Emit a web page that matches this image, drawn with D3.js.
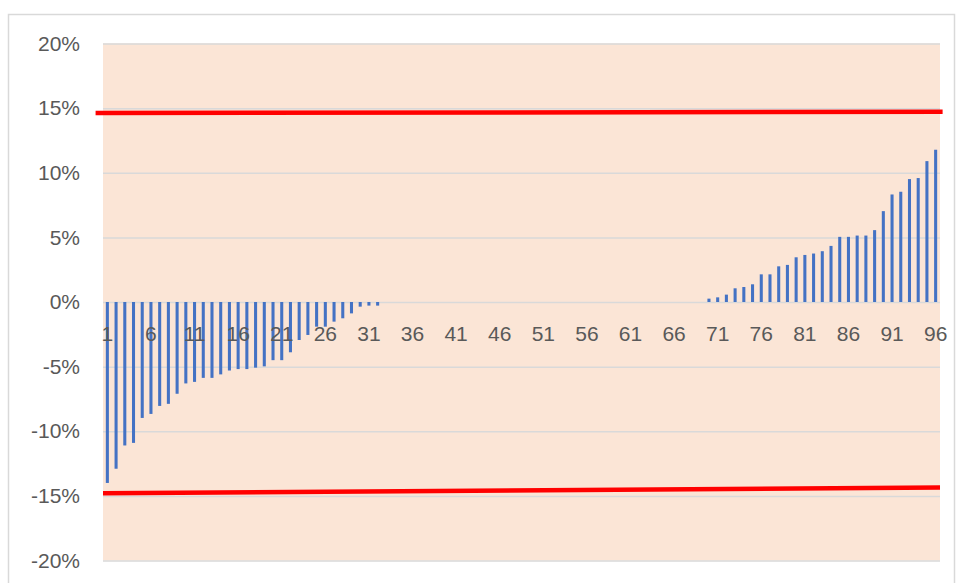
<!DOCTYPE html>
<html>
<head>
<meta charset="utf-8">
<script src="https://cdn.jsdelivr.net/npm/d3@7"></script>
<style>
  body { margin: 0; background: #ffffff; }
  svg { display: block; }
</style>
</head>
<body>
<div id="chart"></div>
<script>
// Values (percent), categories 1..96
var categories = d3.range(1, 97);

var negValues = [-14.0, -12.9, -11.1, -10.9, -8.97, -8.66, -8.04, -7.88, -7.1, -6.3,
                 -6.18, -5.87, -5.87, -5.6, -5.3, -5.19, -5.19, -5.08, -4.98, -4.5,
                 -4.5, -3.89, -2.94, -2.55, -1.91, -1.91, -1.52, -1.26, -0.88, -0.36,
                 -0.28, -0.28];
var zeroCount = 37;  // categories 33..69
var posValues = [0.26, 0.36, 0.57, 1.06, 1.16, 1.37, 2.14, 2.14, 2.76, 2.87,
                 3.46, 3.64, 3.75, 3.93, 4.34, 5.04, 5.04, 5.14, 5.14, 5.56,
                 7.03, 8.32, 8.53, 9.51, 9.59, 10.9, 11.78];

var values = negValues.concat(d3.range(zeroCount).map(function() { return 0; }), posValues);

// Limit lines: [category position, percent]
var upperLimit = [[-0.35, 14.62], [96.8, 14.72]];
var lowerLimit = [[0.5, -14.8], [96.5, -14.35]];

var yTicks = [20, 15, 10, 5, 0, -5, -10, -15, -20];
var xTickLabels = categories.filter(function(d) { return (d - 1) % 5 === 0; });

var W = 956, H = 583;
var plot = { left: 103, right: 940, top: 43.5, bottom: 560.5 };

var svg = d3.select("#chart").append("svg")
    .attr("width", W)
    .attr("height", H);

// outer chart border
svg.append("rect")
    .attr("x", 8.5).attr("y", 14.5)
    .attr("width", 946).attr("height", 600)
    .attr("fill", "#ffffff")
    .attr("stroke", "#d9d9d9")
    .attr("stroke-width", 1.5);

var x = d3.scaleBand()
    .domain(categories)
    .range([plot.left, plot.right])
    .paddingInner(0.65)
    .paddingOuter(0.325);

var xPos = d3.scaleLinear()
    .domain([0.5, 96.5])
    .range([plot.left, plot.right]);

var y = d3.scaleLinear()
    .domain([-20, 20])
    .range([plot.bottom, plot.top]);

// plot area background
svg.append("rect")
    .attr("x", plot.left).attr("y", plot.top)
    .attr("width", plot.right - plot.left)
    .attr("height", plot.bottom - plot.top)
    .attr("fill", "#fbe5d6");

// gridlines + y labels
var yAxis = d3.axisLeft(y)
    .tickValues(yTicks)
    .tickSize(-(plot.right - plot.left))
    .tickPadding(23)
    .tickFormat(function(d) { return d + "%"; });

var gy = svg.append("g")
    .attr("transform", "translate(" + plot.left + ",0)")
    .call(yAxis);
gy.select(".domain").remove();
gy.selectAll(".tick line").attr("stroke", "#d9d9d9").attr("stroke-width", 1.5);
gy.selectAll(".tick text")
    .attr("fill", "#595959")
    .style("font", "21px 'Liberation Sans', Arial, sans-serif");

// bars
svg.append("g").selectAll("rect")
  .data(values)
  .enter().append("rect")
    .attr("x", function(d, i) { return x(categories[i]); })
    .attr("width", x.bandwidth())
    .attr("y", function(d) { return y(Math.max(0, d)); })
    .attr("height", function(d) { return Math.abs(y(d) - y(0)); })
    .attr("fill", "#4472c4");

// limit lines
var line = d3.line()
    .x(function(d) { return xPos(d[0]); })
    .y(function(d) { return y(d[1]); });

[upperLimit, lowerLimit].forEach(function(pts) {
  svg.append("path")
      .attr("d", line(pts))
      .attr("fill", "none")
      .attr("stroke", "#ff0000")
      .attr("stroke-width", 4.5);
});

// x labels along the zero line
var xAxis = d3.axisBottom(x)
    .tickValues(xTickLabels)
    .tickSize(0)
    .tickPadding(24);

var gx = svg.append("g")
    .attr("transform", "translate(0," + y(0) + ")")
    .call(xAxis);
gx.select(".domain").remove();
gx.selectAll(".tick text")
    .attr("fill", "#595959")
    .style("font", "21px 'Liberation Sans', Arial, sans-serif");
</script>
</body>
</html>
